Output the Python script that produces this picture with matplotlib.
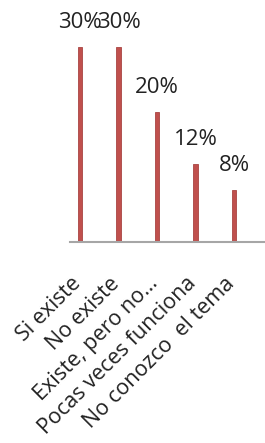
import matplotlib.pyplot as plt
import matplotlib.transforms as mtransforms
import numpy as np

categorias = ['Si existe', 'No existe', 'Existe, pero no…', 'Pocas veces funciona', 'No conozco  el tema']
valores = [30, 30, 20, 12, 8]
etiquetas = ['30%', '30%', '20%', '12%', '8%']

plt.rcParams['font.family'] = ['Open Sans', 'DejaVu Sans']

fig = plt.figure(figsize=(2.65, 4.43), dpi=100)
ax = fig.add_axes([0.264, 0.454, 0.736, 0.512])

x = np.arange(len(categorias))
ax.bar(x, valores, width=0.11, color='#C0504D', edgecolor='#A94442', linewidth=0.6)
for xi, v, t in zip(x, valores, etiquetas):
    ax.text(xi, v + 3.7, t, ha='center', va='center', fontsize=16, color='#222222')

ax.set_xlim(-0.26, 4.8)
ax.set_ylim(0, 34.9)
for s in ['top', 'right', 'left']:
    ax.spines[s].set_visible(False)
ax.spines['bottom'].set_color('#A6A6A6')
ax.spines['bottom'].set_linewidth(1.5)
ax.set_yticks([])
ax.set_xticks(x)
ax.set_xticklabels(categorias, rotation=45, ha='right', va='top', rotation_mode='anchor',
                   fontsize=15.5, color='#222222')
ax.tick_params(axis='x', length=0, pad=21)

# mover las etiquetas un poco a la izquierda
desplazar = mtransforms.ScaledTranslation(-0.10, -0.02, fig.dpi_scale_trans)
for lab in ax.get_xticklabels():
    lab.set_transform(lab.get_transform() + desplazar)

plt.savefig('out.png', dpi=100)
